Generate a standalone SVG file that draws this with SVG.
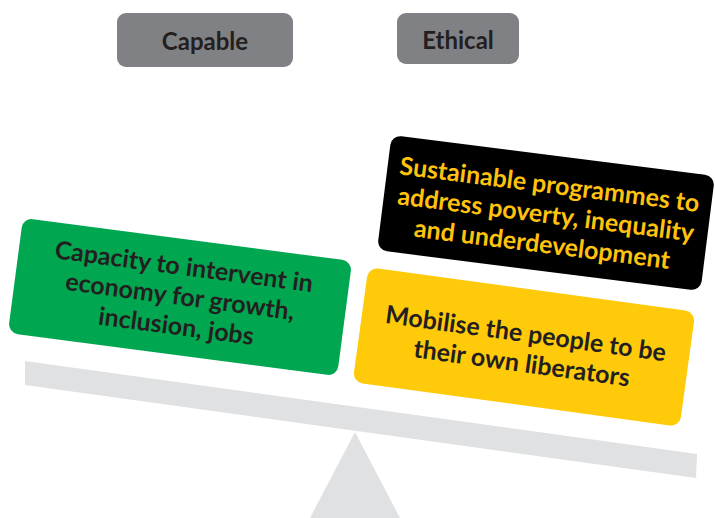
<svg xmlns="http://www.w3.org/2000/svg" width="715" height="518" viewBox="0 0 715 518">
<style>
.hdr{fill:#808184}
.ht{font-family:Lato,"Open Sans","Liberation Sans",sans-serif;font-weight:700;font-size:24px;fill:#231f20;text-anchor:middle}
.bt{font-family:Lato,"Open Sans","Liberation Sans",sans-serif;font-weight:700;font-size:25px;text-anchor:middle}
.dark{fill:#231f20}
.gold{fill:#ffc20e}
.scale{fill:#e0e1e3}
</style>
<rect width="715" height="518" fill="#ffffff"/>
<g id="scale">
<polygon class="scale" points="25,361 697,454 696,478 25,385"/>
<polygon class="scale" points="355,432 310,518 400,518"/>
</g>
<g id="capable">
<rect class="hdr" x="117" y="13" width="176" height="54" rx="9"/>
<text class="ht" x="205" y="50">Capable</text>
</g>
<g id="ethical">
<rect class="hdr" x="397" y="13" width="122" height="51" rx="9"/>
<text class="ht" x="458" y="49">Ethical</text>
</g>
<g id="capacity" transform="translate(180,297) rotate(7.5)">
<rect x="-166" y="-58" width="332" height="116" rx="10" fill="#00a650"/>
<text class="bt dark" x="0" y="-22">Capacity to intervent in</text>
<text class="bt dark" x="0" y="8">economy for growth,</text>
<text class="bt dark" x="0" y="38">inclusion, jobs</text>
</g>
<g id="sustainable" transform="translate(546,213) rotate(7.2)">
<rect x="-163" y="-58" width="326" height="116" rx="10" fill="#000000"/>
<text class="bt gold" x="0" y="-20">Sustainable programmes to</text>
<text class="bt gold" x="0" y="10">address poverty, inequality</text>
<text class="bt gold" x="0" y="40">and underdevelopment</text>
</g>
<g id="mobilise" transform="translate(524,347) rotate(7.8)">
<rect x="-165" y="-58" width="330" height="116" rx="10" fill="#ffca0a"/>
<text class="bt dark" x="0" y="-5">Mobilise the people to be</text>
<text class="bt dark" x="0" y="25">their own liberators</text>
</g>
<g id="connectors"/>
</svg>
